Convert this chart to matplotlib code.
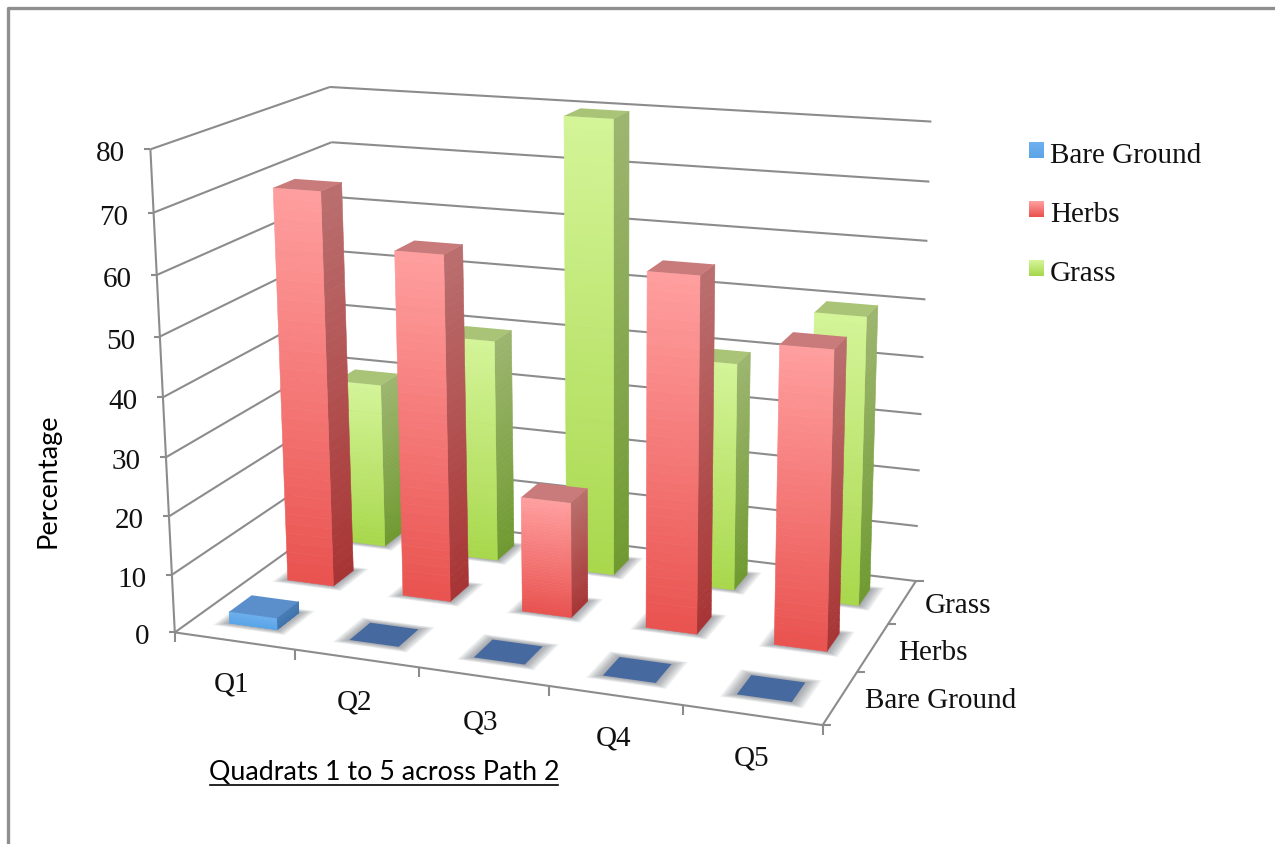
#!/usr/bin/env python3
"""3D-style clustered bars of ground cover per quadrat, saved to out.png."""

import numpy as np
import matplotlib
matplotlib.use("Agg")
import matplotlib.pyplot as plt
from matplotlib.collections import PolyCollection
from matplotlib.colors import to_rgb
from matplotlib.patches import Polygon

quadrats = ["Q1", "Q2", "Q3", "Q4", "Q5"]
series = ["Bare Ground", "Herbs", "Grass"]
bare_ground = [2, 0, 0, 0, 0]
herbs = [69, 60, 20, 60, 50]
grass = [30, 40, 80, 40, 50]
value_ticks = [0, 10, 20, 30, 40, 50, 60, 70, 80]

# face colours per series: front top, front bottom, side top, side bottom, lid
palette = {
    "Bare Ground": ("#6fb0ee", "#5aa5e8", "#4a7fb8", "#3f74ad", "#5a8fcc"),
    "Herbs": ("#ff9f9f", "#e9524f", "#bb6f6f", "#a83434", "#c97a7a"),
    "Grass": ("#d4f498", "#a8d84c", "#9db670", "#6f9a30", "#a9c476"),
}
flat_colour = "#46699f"

# where the plot box corners land on the canvas: (x, y, value) -> (px, py)
box_world = [(0, 0, 0), (1, 0, 0), (1, 1, 0), (0, 1, 0), (0, 0, 80), (0, 1, 80), (1, 1, 80)]
box_canvas = [(172, 630), (823, 727), (915, 579), (346, 514), (153, 150), (327, 86), (932, 122)]


def fit_camera(world, canvas):
    rows = []
    for (x, y, z), (u, v) in zip(world, canvas):
        rows.append([x, y, z, 1, 0, 0, 0, 0, -u * x, -u * y, -u * z, -u])
        rows.append([0, 0, 0, 0, x, y, z, 1, -v * x, -v * y, -v * z, -v])
    return np.linalg.svd(np.array(rows, float))[2][-1].reshape(3, 4)


camera = fit_camera(box_world, box_canvas)


def project(x, y, z):
    p = camera @ np.array([x, y, z, 1.0])
    return p[0] / p[2], p[1] / p[2]


def mix(c0, c1, t):
    return tuple((1 - t) * a + t * b for a, b in zip(to_rgb(c0), to_rgb(c1)))


def gradient_face(ax, corners_at, z0, z1, top, bottom, order, n=40):
    levels = np.linspace(z1, z0, n + 1)
    polys, colours = [], []
    for k in range(n):
        a, b = corners_at
        polys.append([project(*a, levels[k]), project(*b, levels[k]),
                      project(*b, levels[k + 1]), project(*a, levels[k + 1])])
        colours.append(mix(top, bottom, (k + 0.5) / n))
    ax.add_collection(PolyCollection(polys, facecolors=colours, edgecolors=colours,
                                     linewidths=0.4, zorder=order))


def floor_shadow(ax, x0, x1, y0, y1, order):
    # soft halo under a bar, stacked from wide and pale to narrow
    for grow in np.linspace(0.02, 0.003, 8):
        gy = grow * 1.3
        pts = [project(x0 - grow, y0 - gy, 0), project(x1 + grow, y0 - gy, 0),
               project(x1 + grow, y1 + gy, 0), project(x0 - grow, y1 + gy, 0)]
        ax.add_patch(Polygon(pts, closed=True, facecolor="#5f6670", edgecolor="none",
                             alpha=0.085, zorder=order))


def draw_bar(ax, i, j, value, name, order):
    bar_w = 0.08
    bar_d = 0.125
    xc = (i + 0.5) / len(quadrats)
    yc = (j + 0.5) / len(series)
    x0, x1 = xc - bar_w / 2, xc + bar_w / 2
    y0, y1 = yc - bar_d / 2, yc + bar_d / 2
    front_top, front_bot, side_top, side_bot, lid = palette[name]

    floor_shadow(ax, x0, x1, y0, y1, order)
    if value == 0:
        pts = [project(x0, y0, 0), project(x1, y0, 0), project(x1, y1, 0), project(x0, y1, 0)]
        ax.add_patch(Polygon(pts, closed=True, facecolor=flat_colour, edgecolor="none", zorder=order + 0.1))
        return

    gradient_face(ax, ((x1, y0), (x1, y1)), 0, value, side_top, side_bot, order + 0.1)
    gradient_face(ax, ((x0, y0), (x1, y0)), 0, value, front_top, front_bot, order + 0.2)
    lid_pts = [project(x0, y0, value), project(x1, y0, value), project(x1, y1, value), project(x0, y1, value)]
    ax.add_patch(Polygon(lid_pts, closed=True, facecolor=lid, edgecolor="none", zorder=order + 0.3))


def grey_line(ax, a, b, lw=1.5, order=1):
    ax.plot([a[0], b[0]], [a[1], b[1]], color="#8c8c8c", lw=lw, solid_capstyle="butt", zorder=order)


def main():
    fig = plt.figure(figsize=(12.75, 8.44), dpi=100, facecolor="white")
    ax = fig.add_axes([0, 0, 1, 1])
    ax.set_xlim(0, 1275)
    ax.set_ylim(844, 0)
    ax.axis("off")

    serif = "Liberation Serif"
    sans = "Lato"
    ink = "#111111"

    # outer frame, only top and left show
    ax.plot([8, 8, 1275], [844, 8, 8], color="#8f8f8f", lw=2.4, zorder=0.5)

    # grid on the side and back walls
    for v in value_ticks:
        grey_line(ax, project(0, 0, v), project(0, 1, v))
        grey_line(ax, project(0, 1, v), project(1, 1, v))
        px, py = project(0, 0, v)
        grey_line(ax, (px - 6, py), (px, py))
        ax.text(px - 25, py + 5, str(v), ha="right", va="center", family=serif, fontsize=21, color=ink)

    # floor edges and their ticks
    grey_line(ax, project(0, 0, 0), project(0, 0, 80))
    grey_line(ax, project(0, 0, 0), project(1, 0, 0))
    grey_line(ax, project(1, 0, 0), project(1, 1, 0))
    for i in range(len(quadrats) + 1):
        px, py = project(i / len(quadrats), 0, 0)
        grey_line(ax, (px, py), (px, py + 10))
    for j in range(len(series) + 1):
        px, py = project(1, j / len(series), 0)
        grey_line(ax, (px, py), (px + 8, py))

    # back row first so nearer bars cover it
    values = {"Bare Ground": bare_ground, "Herbs": herbs, "Grass": grass}
    for j in range(len(series) - 1, -1, -1):
        name = series[j]
        for i in range(len(quadrats) - 1, -1, -1):
            draw_bar(ax, i, j, values[name][i], name, order=5 + (2 - j) * 2 + (4 - i) * 0.1)

    # category labels sit under the front edge, series labels beside the right edge
    for q, px, py in zip(quadrats, [232, 354, 481, 614, 752], [685, 703, 722, 739, 759]):
        ax.text(px, py, q, ha="center", va="center", family=serif, fontsize=21, color=ink)
    for s, px, py in zip(series, [941, 933, 958], [701, 653, 606]):
        ax.text(px, py, s, ha="center", va="center", family=serif, fontsize=21, color=ink)

    # legend
    for name, y in zip(series, [150, 209, 268]):
        top = palette[name][0]
        bottom = palette[name][1]
        img = np.array([[mix(top, bottom, t)] for t in np.linspace(0, 1, 16)])
        ax.imshow(img, extent=(1029, 1044, y + 8, y - 8), aspect="auto", zorder=3)
        ax.text(1050, y + 6, name, ha="left", va="center", family=serif, fontsize=21, color=ink)
    ax.set_xlim(0, 1275)
    ax.set_ylim(844, 0)

    ax.text(48, 481, "Percentage", rotation=90, ha="center", va="center", family=sans, fontsize=19.5, color="black")
    ax.text(384, 773, "Quadrats 1 to 5 across Path 2", ha="center", va="center", family=sans, fontsize=19.3, color="black")
    ax.plot([210, 558], [785, 785], color="black", lw=1.2, zorder=3)

    fig.savefig("out.png", dpi=100)


if __name__ == "__main__":
    main()
